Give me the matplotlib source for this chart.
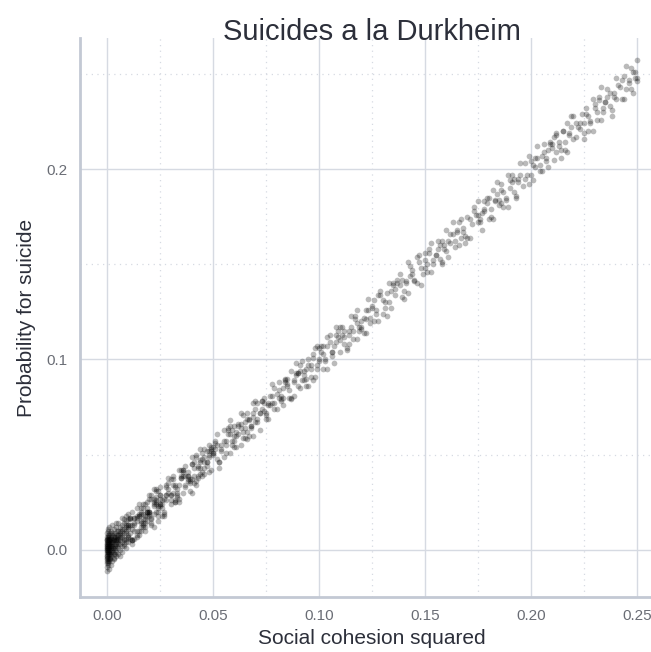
import matplotlib
matplotlib.use("Agg")
import matplotlib.pyplot as plt
from matplotlib.ticker import FixedLocator, FormatStrFormatter
import numpy as np

# Social cohesion squared vs. probability for suicide, both in thousandths.
cohesion_sq_milli = [
    # near zero
    0.0, 0.0, 0.1, 0.0, 0.1, 0.0, 0.2, 0.1, 0.0, 0.1,
    0.2, 0.1, 0.2, 0.0, 0.3, 0.1, 0.2, 0.3, 0.0, 0.2,
    0.3, 0.2, 0.1, 0.3, 0.0, 0.2, 0.3, 0.1, 0.3, 0.2,
    0.4, 0.5, 0.4, 0.6, 0.5, 0.7, 0.4, 0.6, 0.8, 0.5,
    0.7, 0.8, 0.6, 0.9, 0.7, 1.0, 0.8, 0.9, 0.6, 1.1,
    1.0, 1.2, 0.9, 1.1, 1.2, 1.0, 0.8, 1.2, 1.1, 0.9,
    1.3, 1.5, 1.4, 1.6, 1.8, 1.5, 1.7, 1.9, 1.4, 2.0,
    2.1, 1.6, 2.2, 2.4, 1.9, 2.3, 2.6, 2.0, 2.5, 2.7,
    1.7, 2.8, 2.2, 2.6, 1.3, 2.4, 2.9, 1.8, 2.1, 2.5,
    2.9, 3.1, 3.3, 3.0, 3.5, 3.2, 3.7, 3.4, 3.9, 3.6,
    4.0, 3.8, 4.2, 4.1, 4.4, 3.3, 4.3, 4.6, 4.5, 4.8,
    4.7, 4.9, 3.5, 4.2, 3.1, 4.6, 4.0, 4.9, 3.7, 4.4,
    # 5 - 10
    5, 5, 6, 5, 6, 6, 7, 5, 7, 6,
    7, 8, 7, 6, 8, 8, 9, 7, 8, 9,
    9, 9, 10, 8, 10, 9, 10, 6, 10, 7,
    5, 6, 8, 9, 7, 10, 5, 8, 6, 9,
    7, 5, 9, 6, 10, 8, 7, 9, 5, 10,
    # 10 - 25
    10, 11, 11, 12, 12, 13, 11, 12, 13, 14,
    13, 14, 15, 14, 15, 16, 15, 16, 17, 16,
    17, 18, 17, 18, 19, 18, 19, 20, 19, 20,
    20, 21, 21, 22, 21, 22, 23, 22, 23, 24,
    24, 23, 25, 24, 25, 10, 11, 12, 13, 14,
    15, 16, 17, 18, 19, 20, 21, 22, 23, 24,
    25, 11, 13, 15, 17, 19, 21, 23, 25, 12,
    14, 16, 18, 20, 22, 24, 10, 12, 14, 16,
    18, 20, 22, 24, 13, 15, 17, 19, 21, 23,
    25, 11, 14, 17, 20, 23, 12, 16, 19, 22,
    # 25 - 50
    25, 26, 27, 26, 28, 27, 29, 28, 30, 29,
    30, 31, 32, 31, 33, 32, 34, 33, 35, 34,
    35, 36, 37, 36, 38, 37, 39, 38, 40, 39,
    40, 41, 42, 41, 43, 42, 44, 43, 45, 44,
    45, 46, 47, 46, 48, 47, 49, 48, 50, 49,
    26, 28, 30, 32, 34, 36, 38, 40, 42, 44,
    46, 48, 50, 27, 29, 31, 33, 35, 37, 39,
    41, 43, 45, 47, 49, 25, 28, 31, 34, 37,
    40, 43, 46, 49, 26, 29, 32, 35, 38, 41,
    44, 47, 50, 27, 30, 33, 36, 39, 42, 45,
    48, 28, 32, 36, 40, 44, 48, 30, 38, 46,
    # 50 - 75
    50, 51, 52, 51, 53, 52, 54, 53, 55, 54,
    55, 56, 57, 56, 58, 57, 59, 58, 60, 59,
    60, 61, 62, 61, 63, 62, 64, 63, 65, 64,
    65, 66, 67, 66, 68, 67, 69, 68, 70, 69,
    70, 71, 72, 71, 73, 72, 74, 73, 75, 74,
    51, 54, 57, 60, 63, 66, 69, 72, 75, 52,
    55, 58, 61, 64, 67, 70, 73, 53, 56, 59,
    62, 65, 68, 71, 74, 58, 63, 69, 60, 66,
    # 75 - 100
    75, 76, 77, 76, 78, 77, 79, 78, 80, 79,
    80, 81, 82, 81, 83, 82, 84, 83, 85, 84,
    85, 86, 87, 86, 88, 87, 89, 88, 90, 89,
    90, 91, 92, 91, 93, 92, 94, 93, 95, 94,
    95, 96, 97, 96, 98, 97, 99, 98, 100, 99,
    76, 79, 82, 85, 88, 91, 94, 97, 100, 78,
    81, 84, 87, 90, 93, 96, 99, 83, 89, 95,
    # 100 - 125
    100, 101, 102, 101, 103, 102, 104, 103, 105, 104,
    105, 106, 107, 106, 108, 107, 109, 108, 110, 109,
    110, 111, 112, 111, 113, 112, 114, 113, 115, 114,
    115, 116, 117, 116, 118, 117, 119, 118, 120, 119,
    120, 121, 122, 121, 123, 122, 124, 123, 125, 124,
    102, 106, 110, 114, 118, 122, 104, 112, 120, 108,
    # 125 - 150
    125, 126, 127, 128, 127, 129, 128, 130, 129, 131,
    130, 132, 131, 133, 134, 133, 135, 134, 136, 135,
    137, 136, 138, 139, 138, 140, 139, 141, 140, 142,
    141, 143, 142, 144, 145, 144, 146, 145, 147, 148,
    147, 149, 148, 150, 126, 132, 137, 143, 146, 150,
    # 150 - 175
    150, 151, 152, 151, 153, 152, 154, 153, 155, 154,
    155, 156, 157, 156, 158, 157, 159, 158, 160, 159,
    160, 161, 162, 161, 163, 162, 164, 163, 165, 164,
    165, 166, 167, 166, 168, 167, 169, 168, 170, 169,
    170, 171, 172, 173, 174, 175, 173, 171, 175, 158,
    # 175 - 200
    175, 176, 177, 176, 178, 177, 179, 178, 180, 179,
    180, 181, 182, 181, 183, 182, 184, 183, 185, 184,
    185, 186, 187, 186, 188, 187, 189, 188, 190, 189,
    190, 191, 192, 191, 193, 192, 194, 193, 195, 194,
    195, 196, 197, 198, 199, 200, 197, 199, 178, 186,
    # 200 - 225
    200, 201, 202, 201, 203, 202, 204, 203, 205, 204,
    205, 206, 207, 206, 208, 207, 209, 208, 210, 209,
    210, 211, 212, 211, 213, 212, 214, 213, 215, 214,
    215, 216, 217, 216, 218, 217, 219, 218, 220, 219,
    220, 221, 222, 223, 224, 225, 221, 223, 225, 212,
    # 225 - 250
    225, 226, 227, 226, 228, 227, 229, 228, 230, 229,
    230, 231, 232, 231, 233, 232, 234, 233, 235, 234,
    235, 236, 237, 236, 238, 237, 239, 238, 240, 239,
    240, 242, 243, 244, 245, 246, 247, 248, 249, 250,
    241, 243, 245, 247, 249, 250, 248, 246, 244, 250,
]

suicide_prob_milli = [
    # near zero
    2, -4, 5, -1, 0, 7, -6, 3, -9, 1,
    -2, 4, 9, -3, 1, -7, 6, -1, 3, -11,
    4, 0, -5, 8, 2, -3, 11, 1, -6, 5,
    -1, 3, 6, -4, 0, 2, -8, 7, -2, 10,
    4, -5, 1, 6, -2, 3, 12, -1, -7, 5,
    0, 8, -3, 2, -6, 5, 3, 1, -10, 7,
    3, -2, 6, 9, 1, -5, 4, -1, 2, 7,
    -3, 0, 5, 2, 10, -6, 4, -8, 8, 1,
    6, -1, 3, 13, -4, 0, 5, 2, -2, 9,
    4, 8, -2, 1, 6, 11, 3, -5, 7, 2,
    9, 0, 5, -1, 3, 7, 12, 4, -3, 8,
    2, 6, -4, 14, 5, 10, 1, 7, -2, 5,
    # 5 - 10
    8, 1, 12, -2, 5, 9, 4, 14, 10, 0,
    13, 6, -1, 3, 11, 2, 15, 7, 16, 4,
    9, 12, 7, 3, 16, 18, 11, 7, 4, 2,
    5, -3, 9, 6, 11, 13, 10, 14, 8, 1,
    8, 3, 13, 10, 8, 5, 17, 10, 6, 19,
    # 10 - 25
    12, 6, 17, 11, 5, 17, 9, 20, 13, 10,
    10, 15, 19, 7, 24, 15, 10, 19, 19, 14,
    22, 16, 24, 12, 20, 10, 22, 20, 15, 29,
    20, 27, 17, 24, 14, 25, 24, 12, 31, 23,
    18, 26, 24, 31, 27, 7, 16, 5, 14, 18,
    18, 10, 14, 24, 18, 27, 13, 23, 28, 20,
    24, 17, 6, 18, 13, 20, 29, 20, 29, 3,
    22, 12, 18, 18, 27, 15, 13, 13, 8, 22,
    14, 20, 32, 22, 17, 8, 16, 25, 16, 25,
    23, 13, 17, 12, 19, 32, 5, 20, 20, 19,
    # 25 - 50
    33, 22, 27, 24, 33, 18, 32, 29, 24, 35,
    29, 37, 25, 34, 29, 33, 42, 30, 39, 25,
    38, 30, 34, 42, 37, 44, 31, 39, 45, 35,
    45, 39, 49, 35, 44, 34, 47, 43, 41, 53,
    39, 49, 46, 53, 50, 44, 54, 41, 51, 53,
    26, 34, 26, 34, 27, 39, 39, 30, 50, 43,
    43, 49, 54, 20, 38, 30, 28, 38, 39, 37,
    43, 38, 51, 46, 42, 29, 26, 39, 34, 33,
    49, 39, 46, 52, 18, 30, 26, 42, 36, 46,
    40, 52, 51, 19, 37, 32, 42, 36, 36, 48,
    52, 29, 25, 41, 37, 46, 55, 29, 41, 40,
    # 50 - 75
    50, 57, 48, 53, 46, 55, 55, 43, 63, 53,
    57, 51, 63, 55, 51, 61, 57, 68, 60, 55,
    57, 62, 66, 54, 72, 61, 59, 66, 67, 62,
    64, 72, 60, 69, 64, 68, 77, 65, 74, 60,
    78, 67, 72, 69, 78, 63, 77, 74, 69, 80,
    56, 52, 64, 54, 64, 58, 72, 72, 71, 61,
    49, 61, 60, 71, 69, 67, 78, 46, 57, 63,
    65, 59, 65, 77, 73, 65, 55, 70, 65, 62,
    # 75 - 100
    72, 77, 81, 69, 87, 76, 74, 81, 82, 77,
    74, 84, 81, 88, 85, 79, 89, 76, 86, 88,
    90, 84, 94, 80, 89, 79, 92, 88, 86, 98,
    93, 85, 89, 97, 92, 99, 86, 94, 100, 90,
    97, 91, 103, 95, 91, 101, 97, 106, 100, 95,
    76, 85, 78, 87, 81, 94, 95, 89, 106, 77,
    80, 90, 80, 93, 89, 97, 107, 80, 93, 86,
    # 100 - 125
    99, 107, 95, 104, 99, 103, 112, 100, 109, 95,
    113, 102, 107, 104, 113, 98, 112, 109, 104, 115,
    110, 117, 108, 113, 106, 115, 115, 105, 123, 113,
    117, 111, 123, 115, 111, 121, 117, 126, 120, 115,
    117, 122, 126, 114, 132, 121, 119, 126, 127, 122,
    107, 104, 117, 108, 119, 114, 107, 112, 116, 117,
    # 125 - 150
    128, 120, 124, 134, 126, 136, 120, 131, 134, 127,
    124, 135, 130, 140, 136, 130, 140, 127, 137, 139,
    142, 134, 145, 133, 139, 132, 142, 141, 136, 151,
    140, 149, 135, 147, 141, 145, 154, 142, 151, 139,
    155, 145, 148, 148, 131, 123, 140, 144, 140, 156,
    # 150 - 175
    152, 146, 158, 150, 146, 156, 152, 161, 155, 150,
    155, 162, 153, 158, 151, 160, 160, 150, 168, 158,
    157, 162, 166, 154, 172, 161, 159, 166, 167, 162,
    168, 160, 164, 172, 167, 174, 161, 169, 175, 165,
    164, 174, 171, 180, 176, 172, 178, 164, 176, 162,
    # 175 - 200
    183, 172, 177, 174, 183, 168, 182, 179, 174, 185,
    185, 179, 189, 175, 184, 174, 187, 183, 181, 193,
    184, 192, 180, 189, 184, 188, 197, 185, 194, 180,
    190, 197, 188, 193, 186, 195, 195, 185, 203, 193,
    197, 191, 203, 197, 192, 204, 195, 207, 178, 182,
    # 200 - 225
    197, 202, 206, 194, 212, 201, 199, 206, 207, 202,
    199, 209, 206, 213, 210, 204, 214, 201, 211, 213,
    213, 205, 209, 217, 212, 219, 206, 214, 220, 210,
    220, 214, 224, 210, 219, 209, 222, 218, 216, 228,
    228, 217, 222, 221, 229, 216, 224, 224, 219, 218,
    # 225 - 250
    224, 232, 220, 229, 224, 228, 237, 225, 234, 220,
    232, 226, 238, 230, 226, 236, 232, 243, 235, 230,
    235, 242, 233, 238, 231, 240, 240, 228, 248, 238,
    237, 243, 247, 237, 254, 245, 242, 251, 251, 248,
    244, 237, 242, 253, 248, 257, 240, 247, 249, 246,
]

x_ticks = [0.00, 0.05, 0.10, 0.15, 0.20, 0.25]
y_ticks = [0.0, 0.1, 0.2]
x_minor = [0.025, 0.075, 0.125, 0.175, 0.225]
y_minor = [0.05, 0.15, 0.25]

x = np.array(cohesion_sq_milli) / 1000.0
y = np.array(suicide_prob_milli) / 1000.0

plt.rcParams["font.family"] = ["Liberation Sans", "DejaVu Sans"]

TEXT = "#2c2f3a"
TICK_TEXT = "#6a6d75"
GRID = "#d6dae2"
SPINE = "#c3c9d4"

fig = plt.figure(figsize=(6.51, 6.52), dpi=100)
ax = fig.add_axes([80 / 651, 55 / 652, 584 / 651, 559 / 652])

ax.scatter(x, y, s=17, color="black", alpha=0.27, linewidths=0, zorder=3)

ax.set_xlim(-0.0127, 0.2627)
ax.set_ylim(-0.0247, 0.2688)

ax.xaxis.set_major_locator(FixedLocator(x_ticks))
ax.yaxis.set_major_locator(FixedLocator(y_ticks))
ax.xaxis.set_minor_locator(FixedLocator(x_minor))
ax.yaxis.set_minor_locator(FixedLocator(y_minor))
ax.xaxis.set_major_formatter(FormatStrFormatter("%.2f"))
ax.yaxis.set_major_formatter(FormatStrFormatter("%.1f"))

ax.grid(which="major", color=GRID, linewidth=1.0, zorder=0)
ax.grid(which="minor", color=GRID, linewidth=0.9, linestyle=(0, (1, 3.5)), zorder=0)
ax.set_axisbelow(True)

ax.tick_params(which="both", length=0)
ax.tick_params(axis="x", pad=9, labelsize=11, labelcolor=TICK_TEXT)
ax.tick_params(axis="y", pad=9, labelsize=11, labelcolor=TICK_TEXT)

for side in ("top", "right"):
    ax.spines[side].set_visible(False)
for side in ("left", "bottom"):
    ax.spines[side].set_color(SPINE)
    ax.spines[side].set_linewidth(2.0)

fig.text(372 / 651, 1 - 40 / 652, "Suicides a la Durkheim",
         ha="center", va="baseline", fontsize=21, color=TEXT)
fig.text(372 / 651, 1 - 638 / 652, "Social cohesion squared",
         ha="center", va="center", fontsize=15, color=TEXT)
fig.text(27 / 651, 1 - 318 / 652, "Probability for suicide",
         ha="center", va="center", rotation=90, fontsize=15, color=TEXT)

fig.savefig("out.png", dpi=100)
